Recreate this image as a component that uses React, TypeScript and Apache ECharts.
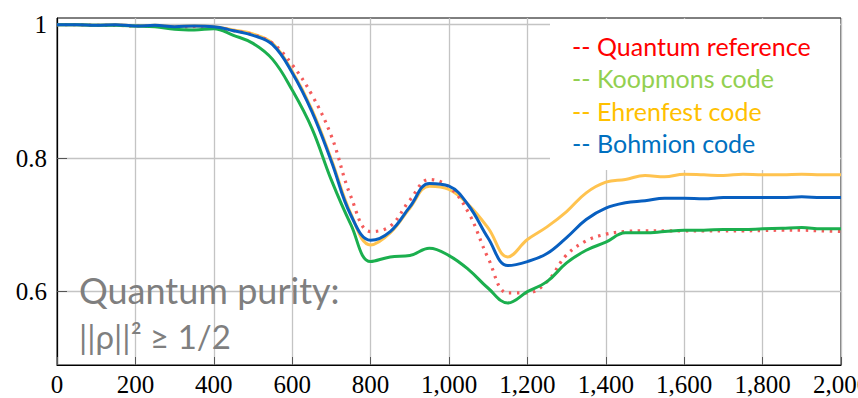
import React, { useEffect, useRef } from "react";
import * as echarts from "echarts";

// Time steps shared by every trajectory
const steps = [
  0, 50, 100, 150, 200, 250, 300, 350, 400, 450, 500, 550, 600, 650, 700, 750,
  800, 850, 900, 950, 1000, 1050, 1100, 1150, 1200, 1250, 1300, 1350, 1400,
  1450, 1500, 1550, 1600, 1650, 1700, 1750, 1800, 1850, 1900, 1950, 2000,
];

// Purity of the electronic reduced density matrix
const quantumReference = [
  1.0, 1.0, 0.999, 0.999, 0.998, 0.998, 0.996, 0.997, 0.996, 0.991, 0.985,
  0.972, 0.94, 0.895, 0.833, 0.742, 0.69, 0.698, 0.737, 0.768, 0.757, 0.718,
  0.65, 0.598, 0.598, 0.615, 0.655, 0.676, 0.686, 0.69, 0.691, 0.691, 0.691,
  0.691, 0.691, 0.691, 0.6915, 0.692, 0.692, 0.691, 0.69,
];
const koopmonsCode = [
  1.0, 1.0, 0.999, 0.999, 0.998, 0.997, 0.993, 0.992, 0.994, 0.984, 0.972,
  0.948, 0.902, 0.845, 0.767, 0.7, 0.645, 0.652, 0.654, 0.665, 0.654, 0.633,
  0.605, 0.583, 0.6, 0.615, 0.643, 0.662, 0.674, 0.688, 0.688, 0.69, 0.692,
  0.692, 0.693, 0.693, 0.694, 0.695, 0.696, 0.694, 0.694,
];
const ehrenfestCode = [
  1.0, 1.0, 0.999, 1.0, 0.998, 0.999, 0.997, 0.998, 0.997, 0.992, 0.986,
  0.972, 0.93, 0.873, 0.798, 0.716, 0.67, 0.688, 0.725, 0.758, 0.753, 0.73,
  0.695, 0.652, 0.678, 0.697, 0.72, 0.748, 0.764, 0.768, 0.774, 0.772, 0.776,
  0.775, 0.774, 0.776, 0.775, 0.775, 0.776, 0.775, 0.775,
];
const bohmionCode = [
  1.0, 1.0, 0.999, 1.0, 0.998, 0.999, 0.997, 0.998, 0.997, 0.991, 0.984,
  0.97, 0.928, 0.87, 0.795, 0.714, 0.677, 0.69, 0.727, 0.762, 0.758, 0.729,
  0.68, 0.639, 0.645, 0.657, 0.681, 0.708, 0.725, 0.733, 0.736, 0.74, 0.74,
  0.739, 0.741, 0.741, 0.741, 0.741, 0.742, 0.741, 0.741,
];

const yTickValues = [0.6, 0.8, 1];

const legendEntries = [
  { label: "-- Quantum reference", color: "#FF0000" },
  { label: "-- Koopmons code", color: "#92D050" },
  { label: "-- Ehrenfest code", color: "#FFC000" },
  { label: "-- Bohmion code", color: "#0070C0" },
];

const pairs = (values: number[]) => steps.map((t, i) => [t, values[i]]);

export default function App() {
  const ref = useRef<HTMLDivElement>(null);

  useEffect(() => {
    document.body.style.margin = "0";
    if (!ref.current) return;
    const chart = echarts.init(ref.current, null, { renderer: "svg" });

    const serif = "'Liberation Serif', 'DejaVu Serif', serif";
    const sans = "Lato, 'Open Sans', sans-serif";

    const lineSeries = (
      name: string,
      values: number[],
      color: string,
      dotted = false
    ) => ({
      name,
      type: "line",
      data: pairs(values),
      showSymbol: false,
      smooth: 0.4,
      z: 3,
      lineStyle: dotted
        ? { color, width: 3.2, type: [2.5, 5.5], cap: "butt" }
        : { color, width: 3 },
    });

    chart.setOption({
      animation: false,
      grid: {
        left: 57,
        right: 17,
        top: 18,
        bottom: 33,
        outerBoundsMode: "none",
        containLabel: false,
        show: true,
        borderColor: "#000",
        borderWidth: 1,
        backgroundColor: "transparent",
      },
      xAxis: {
        type: "value",
        min: 0,
        max: 2000,
        interval: 200,
        axisLine: { show: true, lineStyle: { color: "#000", width: 1.2 } },
        axisTick: {
          show: true,
          inside: true,
          length: 8,
          lineStyle: { color: "#555" },
        },
        splitLine: { show: true, lineStyle: { color: "#c4c4c4", width: 1.3 } },
        axisLabel: {
          margin: 7,
          fontFamily: serif,
          fontSize: 25,
          color: "#000",
          hideOverlap: false,
          formatter: (v: number) => v.toLocaleString("en-US"),
        },
      },
      yAxis: {
        type: "value",
        min: 0.49,
        max: 1.01,
        axisLine: { show: true, lineStyle: { color: "#000", width: 1.2 } },
        axisTick: {
          show: true,
          inside: true,
          length: 10,
          customValues: yTickValues,
          lineStyle: { color: "#555" },
        },
        splitLine: { show: true, lineStyle: { color: "#c4c4c4", width: 1.3 } },
        axisLabel: {
          margin: 10,
          fontFamily: serif,
          fontSize: 25,
          color: "#000",
          customValues: yTickValues,
          formatter: (v: number) => String(Math.round(v * 10) / 10),
        },
      },
      series: [
        lineSeries("Ehrenfest code", ehrenfestCode, "#FFC34F"),
        lineSeries("Quantum reference", quantumReference, "#F45B5B", true),
        lineSeries("Koopmons code", koopmonsCode, "#1BAF4E"),
        lineSeries("Bohmion code", bohmionCode, "#085FC0"),
      ],
      graphic: [
        {
          type: "rect",
          z: 1,
          shape: { x: 550, y: 19, width: 290, height: 151 },
          style: { fill: "#fff" },
        },
        ...legendEntries.map((e, i) => ({
          type: "text",
          z: 4,
          x: 572,
          y: 46 + i * 32.4,
          style: {
            text: e.label,
            fill: e.color,
            font: `25px ${sans}`,
            verticalAlign: "middle",
          },
        })),
        {
          type: "text",
          z: 4,
          x: 79,
          y: 290,
          style: {
            text: "Quantum purity:",
            fill: "#7f7f7f",
            font: `36px ${sans}`,
            verticalAlign: "middle",
          },
        },
        {
          type: "text",
          z: 4,
          x: 79,
          y: 336,
          style: {
            text: "||ρ||² ≥ 1/2",
            fill: "#7f7f7f",
            font: `33px ${sans}`,
            verticalAlign: "middle",
          },
        },
      ],
    });

    return () => chart.dispose();
  }, []);

  return <div ref={ref} style={{ width: 858, height: 398 }} />;
}
